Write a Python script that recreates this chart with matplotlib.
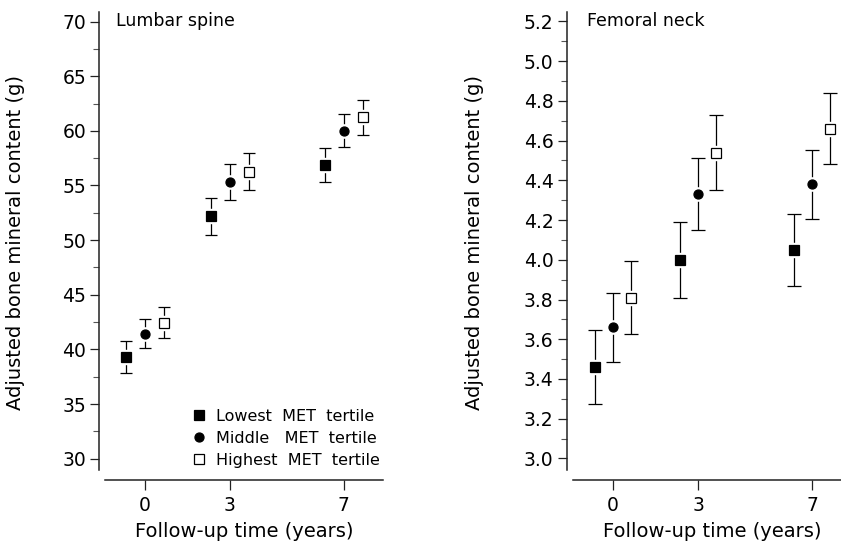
import numpy as np
import matplotlib
matplotlib.use("Agg")
import matplotlib.pyplot as plt
from matplotlib.ticker import MultipleLocator, FixedLocator

plt.rcParams['font.family'] = ['DejaVu Sans']

# follow-up times (years) and tertile groups
times = [0, 3, 7]
groups = ['Lowest  MET  tertile', 'Middle   MET  tertile', 'Highest  MET  tertile']

# lumbar spine: adjusted BMC (g) and error half-widths
spine_low = [39.3, 52.2, 56.85]
spine_mid = [41.45, 55.35, 60.03]
spine_high = [42.45, 56.25, 61.25]
spine_low_err = [1.45, 1.7, 1.57]
spine_mid_err = [1.35, 1.65, 1.5]
spine_high_err = [1.4, 1.7, 1.6]

# femoral neck
neck_low = [3.46, 4.00, 4.05]
neck_mid = [3.66, 4.33, 4.38]
neck_high = [3.81, 4.54, 4.66]
neck_low_err = [0.185, 0.19, 0.18]
neck_mid_err = [0.175, 0.18, 0.173]
neck_high_err = [0.185, 0.19, 0.18]

W, H = 841, 546
fig = plt.figure(figsize=(W / 100, H / 100), dpi=100)


def px_axes(left, right, top, bottom):
    return fig.add_axes([left / W, 1 - bottom / H, (right - left) / W, (bottom - top) / H])


def draw_panel(ax, series, errs, offset, capsize):
    styles = [dict(marker='s', mfc='black', mec='black'),
              dict(marker='o', mfc='black', mec='black'),
              dict(marker='s', mfc='white', mec='black')]
    handles = []
    t = np.array(times, dtype=float)
    for i, (vals, err) in enumerate(zip(series, errs)):
        x = t + (i - 1) * offset
        ax.errorbar(x, vals, yerr=err, fmt='none', ecolor='black', elinewidth=0.9,
                    capsize=capsize, capthick=0.9, zorder=2)
        # white halo so bars stop short of the marker
        ax.plot(x, vals, linestyle='none', marker=styles[i]['marker'], ms=9.5,
                mfc='white', mec='white', zorder=3)
        h, = ax.plot(x, vals, linestyle='none', ms=6.5, mew=0.9, zorder=4, **styles[i])
        handles.append(h)
    return handles


def style_axes(ax, xlim, ylim, xbounds, ybounds, major, minor_ticks, fmt):
    ax.set_xlim(*xlim)
    ax.set_ylim(*ylim)
    for s in ['top', 'right']:
        ax.spines[s].set_visible(False)
    ax.spines['left'].set_bounds(*ybounds)
    ax.spines['bottom'].set_bounds(*xbounds)
    for s in ['left', 'bottom']:
        ax.spines[s].set_linewidth(1.1)
        ax.spines[s].set_color('#222222')
    ax.set_xticks(times)
    ax.yaxis.set_major_locator(MultipleLocator(major))
    ax.yaxis.set_minor_locator(FixedLocator(minor_ticks))
    ax.yaxis.set_major_formatter(fmt)
    ax.tick_params(axis='y', which='major', length=6.5, width=0.9, pad=3, labelsize=13.5, color='#222222')
    ax.tick_params(axis='y', which='minor', length=4, width=0.8, color='#555555')
    ax.tick_params(axis='x', which='major', length=7, width=0.9, pad=5, labelsize=13.5, color='#222222')


# left panel
ax1 = px_axes(99.3, 382.7, 11.7, 479.5)
h1 = draw_panel(ax1, [spine_low, spine_mid, spine_high],
                [spine_low_err, spine_mid_err, spine_high_err], 0.67, 4.5)
style_axes(ax1, (-1.598, 8.377), (28.10, 70.9), (-1.397, 8.377), (29.0, 70.9),
           5, [32.5, 37.5, 42.5, 47.5, 52.5, 57.5, 62.5, 67.5], '{x:.0f}')
ax1.text(0.059, 0.981, 'Lumbar spine', transform=ax1.transAxes, va='center', ha='left', fontsize=12.5)
ax1.set_ylabel('Adjusted bone mineral content (g)', fontsize=14)
ax1.yaxis.set_label_coords(-0.262, 0.506)
ax1.set_xlabel('Follow-up time (years)', fontsize=14)
ax1.xaxis.set_label_coords(0.512, -0.09)
ax1.legend(h1, groups, loc='lower left', bbox_to_anchor=(190.6 / W, 1 - 468 / H),
           bbox_transform=fig.transFigure, frameon=False, fontsize=11.5,
           handlelength=1.0, handletextpad=0.6, labelspacing=0.45,
           borderpad=0, borderaxespad=0, markerscale=1.0)

# right panel
ax2 = px_axes(566.7, 841, 11.7, 479.5)
draw_panel(ax2, [neck_low, neck_mid, neck_high],
           [neck_low_err, neck_mid_err, neck_high_err], 0.63, 5)
style_axes(ax2, (-1.614, 8.01), (2.894, 5.249), (-1.382, 8.01), (2.943, 5.249),
           0.2, [3.1, 3.3, 3.5, 3.7, 3.9, 4.1, 4.3, 4.5, 4.7, 4.9, 5.1], '{x:.1f}')
ax2.text(0.074, 0.981, 'Femoral neck', transform=ax2.transAxes, va='center', ha='left', fontsize=12.5)
ax2.set_ylabel('Adjusted bone mineral content (g)', fontsize=14)
ax2.yaxis.set_label_coords(-0.302, 0.506)
ax2.set_xlabel('Follow-up time (years)', fontsize=14)
ax2.xaxis.set_label_coords(0.53, -0.09)

fig.savefig('out.png', dpi=100)
